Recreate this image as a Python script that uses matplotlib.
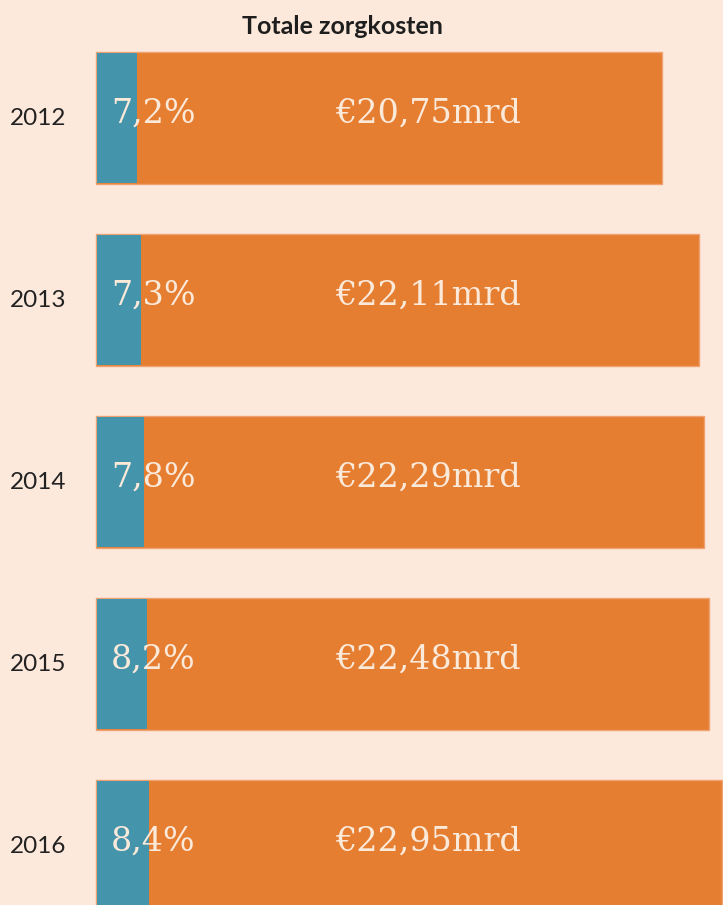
import matplotlib
matplotlib.use("Agg")
import matplotlib.pyplot as plt

years = ["2012", "2013", "2014", "2015", "2016"]
totals = [20.75, 22.11, 22.29, 22.48, 22.95]          # mrd euro
shares = [7.2, 7.3, 7.8, 8.2, 8.4]                     # percent
total_labels = ["€20,75mrd", "€22,11mrd", "€22,29mrd", "€22,48mrd", "€22,95mrd"]
share_labels = ["7,2%", "7,3%", "7,8%", "8,2%", "8,4%"]

BG = "#fde9dc"
ORANGE = "#e67e31"
BLUE = "#4494ab"
TXT = "#fbe9da"

W, H = 723, 905
fig = plt.figure(figsize=(W / 100, H / 100), dpi=100, facecolor=BG)
ax = fig.add_axes([0, 0, 1, 1])
ax.set_facecolor(BG)

px = 27.28  # pixels per unit
x0 = 96
ax.set_xlim(-x0 / px, (W - x0) / px)
c0, step = 118, 182
ax.set_ylim((H - c0) / step, -c0 / step)
ax.axis("off")

idx = list(range(len(years)))
bh = 132 / step
ax.barh(idx, totals, height=bh, left=0, color=ORANGE, edgecolor="#eea272", linewidth=1.0)
blue_w = [t * s / 100 for t, s in zip(totals, shares)]
ax.barh(idx, blue_w, height=bh - 0.012, left=0.02, color=BLUE, linewidth=0)

for i in idx:
    ax.text((38 - x0) / px, i, years[i], ha="center", va="center",
            fontsize=17.5, family="Lato", color="#222222")
    ax.text((111 - x0) / px, i - 0.025, share_labels[i], ha="left", va="center",
            fontsize=24, family="DejaVu Serif", color=TXT)
    ax.text((335 - x0) / px, i - 0.025, total_labels[i], ha="left", va="center",
            fontsize=24, family="DejaVu Serif", color=TXT)

fig.text(342 / W, 1 - 27 / H, "Totale zorgkosten", ha="center", va="center",
         fontsize=18, family="Lato", weight="bold", color="#1e1e1e")

fig.savefig("out.png", dpi=100, facecolor=BG)
